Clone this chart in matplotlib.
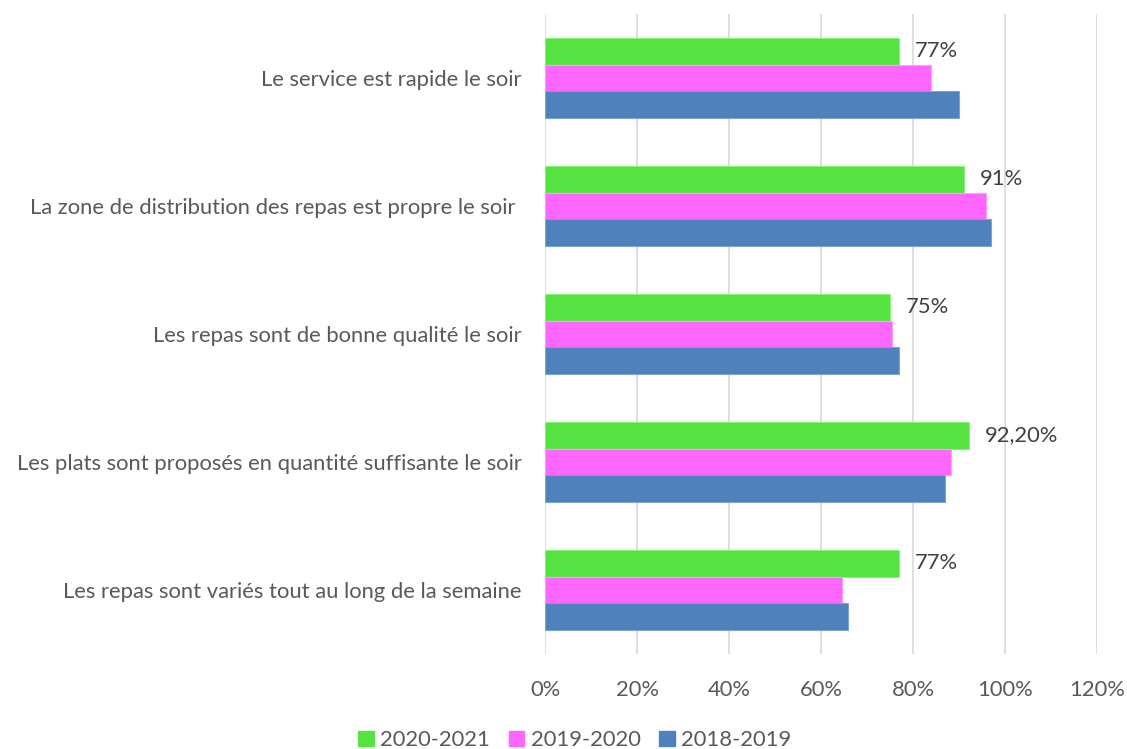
import numpy as np
import matplotlib
matplotlib.use('Agg')
import matplotlib.pyplot as plt
from matplotlib.patches import Patch

plt.rcParams['font.family'] = ['Lato', 'DejaVu Sans']

# data, top to bottom
categories = ['Le service est rapide le soir',
              'La zone de distribution des repas est propre le soir ',
              'Les repas sont de bonne qualité le soir',
              'Les plats sont proposés en quantité suffisante le soir',
              'Les repas sont variés tout au long de la semaine']
seasons = ['2020-2021', '2019-2020', '2018-2019']
vals_2021 = [77, 91, 75, 92.2, 77]
vals_2020 = [84, 95.9, 75.4, 88.2, 64.6]
vals_2019 = [90.1, 97, 76.9, 87, 65.9]
labels_2021 = ['77%', '91%', '75%', '92,20%', '77%']

colors = ['#55e342', '#ff66ff', '#4f81bd']
edges = ['#8af07c', '#ff9cff', '#7fa3d4']
grey = '#595959'
fs = 15.8

fig = plt.figure(figsize=(11.27, 7.49), dpi=100)
ax = fig.add_axes([0.4836, 0.1268, 0.4898, 0.8545])

y = np.arange(len(categories))
bh = 0.208
series = [vals_2021, vals_2020, vals_2019]
for i, (vals, c, e) in enumerate(zip(series, colors, edges)):
    ax.barh(y + (i - 1) * bh, [v / 100 for v in vals], height=bh,
            color=c, edgecolor=e, linewidth=0.8, zorder=3)

for yi, v, lab in zip(y, vals_2021, labels_2021):
    ax.annotate(lab, (v / 100, yi - bh), xytext=(11.5, 0), textcoords='offset points',
                ha='left', va='center', fontsize=fs, color='#404040')

ax.set_xlim(0, 1.2)
ax.set_ylim(len(categories) - 0.5, -0.5)
ax.set_xticks(np.arange(0, 1.21, 0.2))
ax.set_xticklabels([f'{int(round(t * 100))}%' for t in np.arange(0, 1.21, 0.2)])
ax.set_yticks(y)
ax.set_yticklabels(categories)
ax.tick_params(axis='y', length=0, pad=17, labelsize=fs, labelcolor=grey)
ax.tick_params(axis='x', length=0, pad=19, labelsize=fs, labelcolor=grey)
ax.grid(axis='x', color='#d9d9d9', linewidth=1.2, zorder=0)
for s in ax.spines.values():
    s.set_visible(False)

handles = [Patch(facecolor=c, edgecolor=c) for c in colors]
fig.legend(handles, seasons, loc='lower center', bbox_to_anchor=(0.51, -0.028), ncol=3,
           frameon=False, fontsize=fs, handlelength=0.7, handleheight=0.7,
           handletextpad=0.3, columnspacing=0.85, labelcolor=grey)

fig.savefig('out.png', dpi=100)
